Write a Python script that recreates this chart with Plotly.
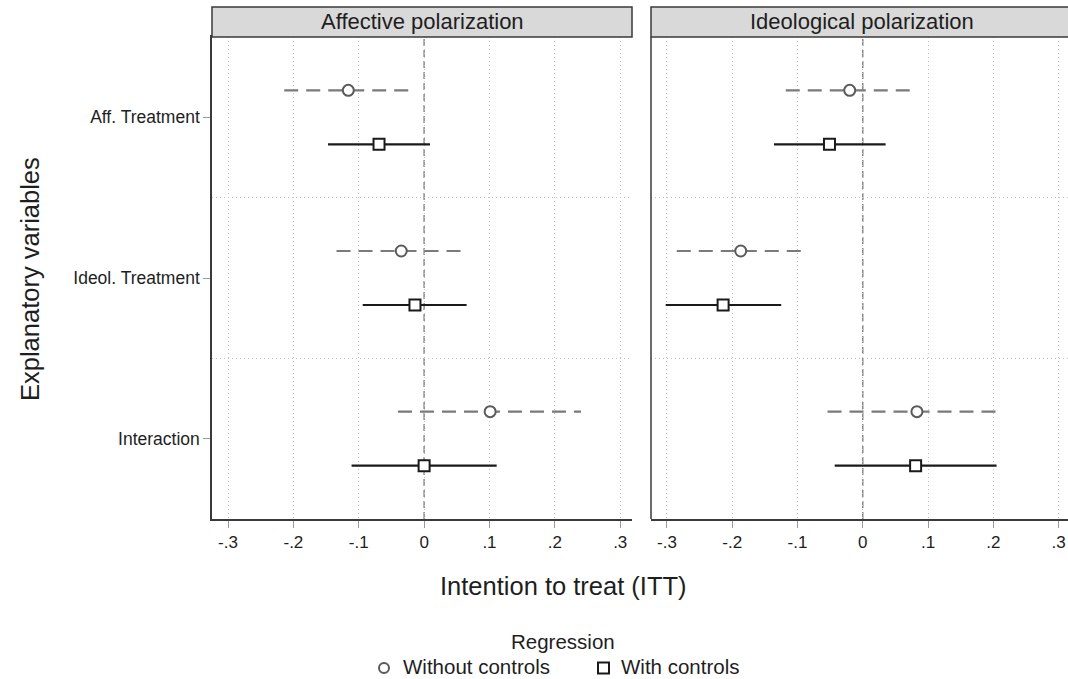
import plotly.graph_objects as go

# Coefficient estimates with 95% confidence intervals (ITT)
variables = ["Aff. Treatment", "Ideol. Treatment", "Interaction"]
panels = ["Affective polarization", "Ideological polarization"]
models = ["Without controls", "With controls"]

# Affective polarization outcome
aff_nc_est = [-0.116, -0.035, 0.101]
aff_nc_lo = [-0.214, -0.134, -0.040]
aff_nc_hi = [-0.018, 0.063, 0.240]
aff_c_est = [-0.069, -0.014, 0.000]
aff_c_lo = [-0.147, -0.094, -0.111]
aff_c_hi = [0.009, 0.065, 0.111]

# Ideological polarization outcome
ide_nc_est = [-0.020, -0.187, 0.083]
ide_nc_lo = [-0.118, -0.285, -0.054]
ide_nc_hi = [0.080, -0.089, 0.212]
ide_c_est = [-0.051, -0.214, 0.081]
ide_c_lo = [-0.136, -0.302, -0.043]
ide_c_hi = [0.035, -0.125, 0.205]

x_ticks = [-0.3, -0.2, -0.1, 0, 0.1, 0.2, 0.3]
x_ticklabels = ["-.3", "-.2", "-.1", "0", ".1", ".2", ".3"]

W, H = 1068, 679
FONT = "Liberation Sans, Arial, sans-serif"
TXT = "#1e1e1e"
FRAME = "#3a3a3a"
GRID = "#c4c4c4"

# vertical position of each variable (top to bottom) and model offsets
y_base = [3, 2, 1]
offset = {"Without controls": 0.168, "With controls": -0.168}
style = {
    "Without controls": dict(color="#7a7a7a", dash="14px,8px", symbol="circle",
                             mcolor="#5a5a5a", size=11),
    "With controls": dict(color="#1a1a1a", dash="solid", symbol="square",
                          mcolor="#1a1a1a", size=11),
}

panel_data = [
    {"Without controls": (aff_nc_est, aff_nc_lo, aff_nc_hi),
     "With controls": (aff_c_est, aff_c_lo, aff_c_hi)},
    {"Without controls": (ide_nc_est, ide_nc_lo, ide_nc_hi),
     "With controls": (ide_c_est, ide_c_lo, ide_c_hi)},
]

fig = go.Figure()

for p, pdata in enumerate(panel_data):
    xa = "x" if p == 0 else "x2"
    for m in models:
        est, lo, hi = pdata[m]
        ys = [b + offset[m] for b in y_base]
        st = style[m]
        seg_x, seg_y = [], []
        for l, h, yy in zip(lo, hi, ys):
            seg_x += [l, h, None]
            seg_y += [yy, yy, None]
        fig.add_trace(go.Scatter(
            x=seg_x, y=seg_y, mode="lines", xaxis=xa, yaxis="y",
            line=dict(color=st["color"], width=2.2, dash=st["dash"]),
            showlegend=False, hoverinfo="skip"))
        fig.add_trace(go.Scatter(
            x=est, y=ys, mode="markers", xaxis=xa, yaxis="y",
            marker=dict(symbol=st["symbol"], size=st["size"],
                        color="white", line=dict(color=st["mcolor"], width=2)),
            showlegend=False, name=m))

left_dom = [212 / W, 632 / W]
right_dom = [651 / W, 1.0]
y_dom = [(H - 519) / H, (H - 37) / H]

x_common = dict(
    tickmode="array", tickvals=x_ticks, ticktext=x_ticklabels,
    ticks="outside", ticklen=7, tickcolor="#9a9a9a", tickwidth=1,
    tickfont=dict(family=FONT, size=17, color=TXT),
    showgrid=True, gridcolor=GRID, griddash="1px,3px", gridwidth=1,
    zeroline=False, showline=True, linecolor=FRAME, linewidth=1.5,
    anchor="y", fixedrange=True,
)

fig.update_layout(
    width=W, height=H,
    margin=dict(l=0, r=0, t=0, b=0),
    paper_bgcolor="white", plot_bgcolor="white",
    showlegend=False,
    xaxis=dict(domain=left_dom, range=[-0.3245, 0.318], mirror=True, **x_common),
    xaxis2=dict(domain=right_dom, range=[-0.3245, 0.3145], mirror=False, **x_common),
    yaxis=dict(
        domain=y_dom, range=[0.5, 3.5],
        tickmode="array", tickvals=y_base, ticktext=variables,
        ticks="outside", ticklen=7, tickcolor="#9a9a9a",
        tickfont=dict(family=FONT, size=17.5, color=TXT),
        showgrid=False, zeroline=False,
        showline=True, linecolor=FRAME, linewidth=1.5,
        minor=dict(tickvals=[1.5, 2.5], showgrid=True, gridcolor=GRID,
                   griddash="1px,3px", ticklen=0),
        fixedrange=True,
    ),
)

# right-panel left border
fig.add_shape(type="line", xref="x2 domain", yref="paper", x0=0, x1=0,
              y0=y_dom[0], y1=y_dom[1], line=dict(color=FRAME, width=1.5))
# right panel horizontal dividers
for yv in [1.5, 2.5]:
    fig.add_shape(type="line", xref="x2 domain", yref="y", x0=0, x1=1, y0=yv, y1=yv,
                  line=dict(color=GRID, width=1, dash="1px,3px"), layer="below")

# zero reference lines
for xr in ["x", "x2"]:
    fig.add_shape(type="line", xref=xr, yref="paper", x0=0, x1=0,
                  y0=y_dom[0], y1=y_dom[1],
                  line=dict(color="#8a8a8a", width=1.5, dash="7px,4px"), layer="below")

# panel header strips
hdr_lo, hdr_hi = (H - 37) / H, (H - 7) / H
for dom in [left_dom, [651 / W, 1.2]]:
    fig.add_shape(type="rect", xref="paper", yref="paper",
                  x0=dom[0], x1=dom[1], y0=hdr_lo, y1=hdr_hi,
                  fillcolor="#d9d9d9", line=dict(color=FRAME, width=1.5))
for title, cx in zip(panels, [422 / W, 862 / W]):
    fig.add_annotation(x=cx, y=(hdr_lo + hdr_hi) / 2, xref="paper", yref="paper",
                       text=title, showarrow=False, xanchor="center", yanchor="middle",
                       font=dict(family=FONT, size=22, color=TXT))

# axis titles
fig.add_annotation(x=563 / W, y=(H - 586) / H, xref="paper", yref="paper",
                   text="Intention to treat (ITT)", showarrow=False,
                   xanchor="center", yanchor="middle",
                   font=dict(family=FONT, size=25.5, color=TXT))
fig.add_annotation(x=30 / W, y=(H - 279) / H, xref="paper", yref="paper",
                   text="Explanatory variables", showarrow=False, textangle=-90,
                   xanchor="center", yanchor="middle",
                   font=dict(family=FONT, size=25.5, color=TXT))

# legend: title, symbol keys and labels
fig.add_annotation(x=563 / W, y=(H - 641) / H, xref="paper", yref="paper",
                   text="Regression", showarrow=False, xanchor="center",
                   yanchor="middle", font=dict(family=FONT, size=20.5, color=TXT))
fig.add_shape(type="circle", xref="paper", yref="paper",
              x0=379 / W, x1=389 / W, y0=(H - 673) / H, y1=(H - 663) / H,
              fillcolor="white", line=dict(color=style["Without controls"]["mcolor"], width=2))
fig.add_shape(type="rect", xref="paper", yref="paper",
              x0=598 / W, x1=609 / W, y0=(H - 673.5) / H, y1=(H - 662.5) / H,
              fillcolor="white", line=dict(color=style["With controls"]["mcolor"], width=2))
for label, lx in zip(models, [402 / W, 620 / W]):
    fig.add_annotation(x=lx, y=0, xref="paper", yref="paper", text=label,
                       showarrow=False, xanchor="left", yanchor="bottom", borderpad=0,
                       font=dict(family=FONT, size=20.5, color=TXT))

fig.write_html("out.html")
